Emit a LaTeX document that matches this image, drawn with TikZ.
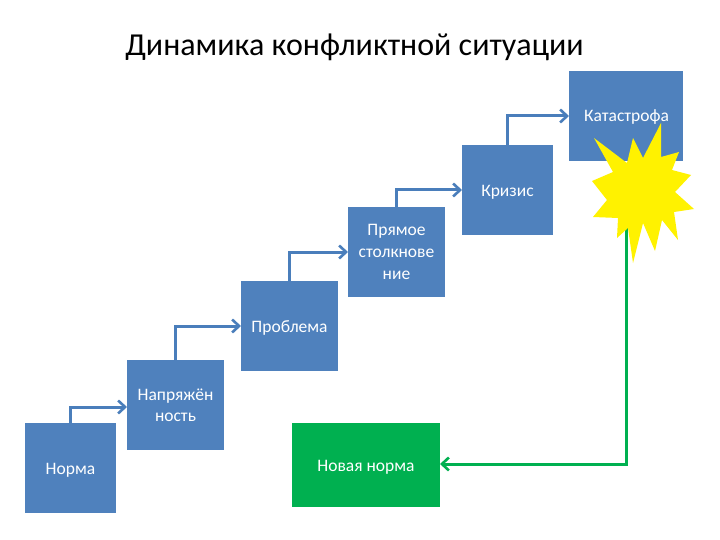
\documentclass[tikz,border=0pt]{standalone}
\usepackage{fontspec}
\setmainfont{Carlito}
\usetikzlibrary{arrows.meta,calc}
\definecolor{boxblue}{HTML}{4F81BD}
\definecolor{linkblue}{HTML}{4A7EBB}
\definecolor{boxgreen}{HTML}{00B050}
\tikzset{
  stepbox/.style={fill=#1,draw=none,inner sep=0pt,outer sep=0pt,text=white,align=center,font=\fontsize{17.5pt}{22pt}\selectfont,text depth=0pt},
  linkarrow/.style={draw=#1,line width=3pt,-{Straight Barb[length=7pt,width=13pt,line width=2.6pt]}},
}
\begin{document}
\begin{tikzpicture}[x=1pt,y=-1pt]
\useasboundingbox[fill=white] (0,0) rectangle (720,540);
\node[font=\fontsize{32pt}{38pt}\selectfont,text=black,inner sep=0pt] (title) at (354.5,47) {Динамика конфликтной ситуации};
\node[stepbox=boxblue,minimum width=114pt,minimum height=90pt,anchor=north west] (kat) at (569,71) {};
\node[stepbox=boxblue,minimum width=91pt,minimum height=90pt,anchor=north west] (kri) at (462,145) {\raisebox{-1pt}{Кризис}};
\node[stepbox=boxblue,minimum width=97pt,minimum height=90pt,anchor=north west] (pry) at (348,207) {Прямое\\столкнове\\ние};
\node[stepbox=boxblue,minimum width=97pt,minimum height=90pt,anchor=north west] (pro) at (241,281) {\raisebox{-1.5pt}{Проблема}};
\node[stepbox=boxblue,minimum width=97pt,minimum height=90pt,anchor=north west] (nap) at (127,360) {\raisebox{-1.5pt}{Напряжён}\\ность};
\node[stepbox=boxblue,minimum width=91pt,minimum height=90pt,anchor=north west] (nor) at (25,423) {\raisebox{-1.5pt}{Норма}};
\node[stepbox=boxgreen,minimum width=148pt,minimum height=84pt,anchor=north west] (new) at (292,423) {\raisebox{-1pt}{Новая норма}};
\coordinate (turn) at (626.7,228);
\draw[linkarrow=linkblue] ($(nor.north west)+(45,0)$) |- (nap.west |- 0,407);
\draw[linkarrow=linkblue] ($(nap.north west)+(48,0)$) |- (pro.west |- 0,326);
\draw[linkarrow=linkblue] ($(pro.north west)+(48,0)$) |- (pry.west |- 0,252);
\draw[linkarrow=linkblue] ($(pry.north west)+(48,0)$) |- (kri.west |- 0,190);
\draw[linkarrow=linkblue] ($(kri.north west)+(45,0)$) |- (kat.west |- 0,116);
\draw[linkarrow=boxgreen] (turn) |- (new.east |- 0,464);
\node[text=white,font=\fontsize{17.5pt}{22pt}\selectfont,inner sep=0pt] (katlabel) at (626.5,117.5) {Катастрофа};
\fill[yellow] (594,138)--(627,163)--(633,138)--(643,158)--(661,123)--(661,157)--(679,152)--(672,170)--(691,175)--(675,192)--(694,209)--(674,212)--(678,240)--(662,220)--(655,251)--(643,223)--(633,263)--(628,228)--(617,238)--(618,218)--(593,217)--(607,200)--(592,181)--(613,172)--cycle;
\end{tikzpicture}
\end{document}
